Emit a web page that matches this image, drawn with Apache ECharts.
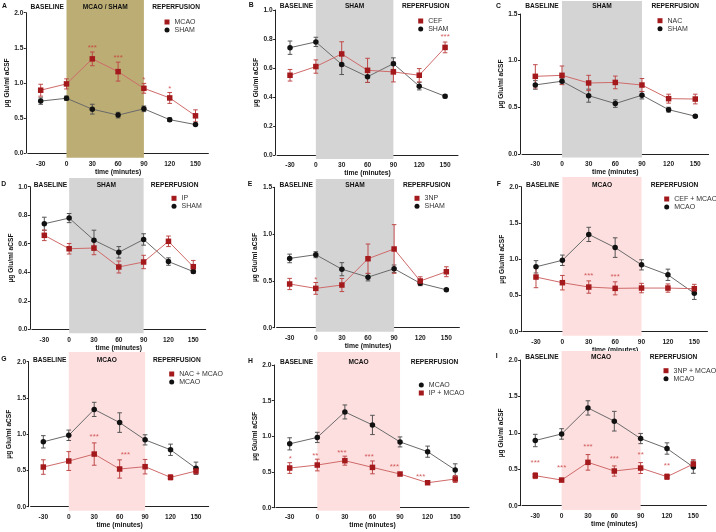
<!DOCTYPE html>
<html><head><meta charset="utf-8">
<script src="https://cdn.jsdelivr.net/npm/echarts@6/dist/echarts.min.js"></script>
<style>html,body{margin:0;padding:0;background:#fff}#c{width:716px;height:532px}</style>
</head><body><div id="c"></div>
<script>
// ---------- data ----------
const times = ['-30', '0', '30', '60', '90', '120', '150'];
const sham = [0.74, 0.78, 0.625, 0.54, 0.63, 0.475, 0.405];
const shamErr = [0.046, 0.032, 0.07, 0.04, 0.04, 0.026, 0.012];
const mcao = [0.895, 0.985, 1.342, 1.16, 0.922, 0.785, 0.53];
const mcaoErr = [0.085, 0.072, 0.098, 0.135, 0.07, 0.078, 0.085];
const cef = [0.55, 0.61, 0.697, 0.584, 0.573, 0.55, 0.742];
const cefErr = [0.04, 0.046, 0.084, 0.083, 0.069, 0.046, 0.037];
const nac = [0.832, 0.843, 0.761, 0.767, 0.739, 0.593, 0.589];
const nacErr = [0.125, 0.1, 0.082, 0.068, 0.07, 0.048, 0.052];
const ip = [0.659, 0.565, 0.57, 0.437, 0.472, 0.617, 0.439];
const ipErr = [0.037, 0.037, 0.047, 0.042, 0.047, 0.037, 0.044];
const np3 = [0.467, 0.42, 0.456, 0.737, 0.841, 0.499, 0.598];
const np3Err = [0.06, 0.063, 0.07, 0.157, 0.26, 0.045, 0.053];
const cefMcao = [0.754, 0.676, 0.616, 0.598, 0.602, 0.602, 0.593];
const cefMcaoErr = [0.147, 0.1, 0.085, 0.09, 0.065, 0.057, 0.06];
const nacMcao = [0.547, 0.63, 0.726, 0.52, 0.552, 0.405, 0.492];
const nacMcaoErr = [0.1, 0.13, 0.154, 0.126, 0.1, 0.035, 0.04];
const ipMcao = [0.556, 0.598, 0.659, 0.565, 0.472, 0.35, 0.402];
const ipMcaoErr = [0.075, 0.082, 0.063, 0.09, 0.02, 0.02, 0.048];
const np3Mcao = [0.412, 0.352, 0.595, 0.476, 0.517, 0.398, 0.572];
const np3McaoErr = [0.04, 0.022, 0.107, 0.07, 0.075, 0.037, 0.06];

// significance marks: [time, y value, text]
const starsA = [['30', 1.534, '***'], ['60', 1.379, '***'], ['90', 1.073, '*'], ['120', 0.941, '*']];
const starsB = [['150', 0.832, '***']];
const starsC = [];
const starsD = [];
const starsE = [['0', 0.534, '*']];
const starsF = [['30', 0.8, '***'], ['60', 0.79, '***']];
const starsG = [['30', 0.988, '***'], ['60', 0.749, '***']];
const starsH = [['-30', 0.715, '*'], ['0', 0.762, '**'], ['30', 0.804, '***'], ['60', 0.748, '***'], ['90', 0.598, '***'], ['120', 0.467, '***']];
const starsI = [['-30', 0.613, '***'], ['0', 0.545, '***'], ['30', 0.833, '***'], ['60', 0.673, '***'], ['90', 0.732, '**'], ['120', 0.581, '**']];

const phaseLabels = ['BASELINE', 'REPERFUSION'];
const xRange = [-45, 165];
const shadeRange = [0, 90];

// ---------- styles ----------
const FONT = '"Liberation Sans", Arial, sans-serif';
const RED = '#A3191C', RED_LINE = '#D06A6A', RED_ERR = '#BF4A4A';
const BLK = '#111111', BLK_LINE = '#6a6a6a', BLK_ERR = '#555555';
const STAR = '#C83A3A';
const OLIVE = '#BBAD74', GRAY = '#D4D4D4', PINK = '#FDDFDF';

const panels = [
  {letter: 'A', mid: 'MCAO / SHAM', shade: OLIVE, ymax: 2, yint: 0.5,
   red: mcao, redErr: mcaoErr, redName: 'MCAO', blk: sham, blkErr: shamErr, blkName: 'SHAM', redFirst: true, stars: starsA,
   lay: {left: 27.8, right: 208.4, top: 12.7, zero: 153, axisY: 157.7, bgTop: 0, lx: 4, ly: 7, nameX: 10, legX: 167, legY: 22, headY: 7}},
  {letter: 'B', mid: 'SHAM', shade: GRAY, ymax: 1, yint: 0.2,
   red: cef, redErr: cefErr, redName: 'CEF', blk: sham, blkErr: shamErr, blkName: 'SHAM', redFirst: true, stars: starsB,
   lay: {left: 277.1, right: 458, top: 10, zero: 155, axisY: 159, bgTop: 0, lx: 250.7, ly: 6, nameX: 257, legX: 420.7, legY: 21, headY: 6.3}},
  {letter: 'C', mid: 'SHAM', shade: GRAY, ymax: 1.5, yint: 0.5,
   red: nac, redErr: nacErr, redName: 'NAC', blk: sham, blkErr: shamErr, blkName: 'SHAM', redFirst: true, stars: starsC,
   lay: {left: 522, right: 708.6, top: 14, zero: 154, axisY: 157.5, bgTop: 1, lx: 498, ly: 6.7, nameX: 508.7, legX: 660, legY: 20.7, headY: 6.7}},
  {letter: 'D', mid: 'SHAM', shade: GRAY, ymax: 1, yint: 0.2,
   red: ip, redErr: ipErr, redName: 'IP', blk: sham, blkErr: shamErr, blkName: 'SHAM', redFirst: true, stars: starsD,
   lay: {left: 31.9, right: 205.7, top: 186.7, zero: 329.3, axisY: 333.3, bgTop: 178, lx: 3.3, ly: 185, nameX: 11, legX: 174, legY: 198.3, headY: 185}},
  {letter: 'E', mid: 'SHAM', shade: GRAY, ymax: 1.5, yint: 0.5,
   red: np3, redErr: np3Err, redName: '3NP', blk: sham, blkErr: shamErr, blkName: 'SHAM', redFirst: true, stars: starsE,
   lay: {left: 276.6, right: 459.4, top: 187.3, zero: 327.7, axisY: 331.7, bgTop: 179, lx: 249.7, ly: 185, nameX: 256.3, legX: 417, legY: 198.3, headY: 185}},
  {letter: 'F', mid: 'MCAO', shade: PINK, ymax: 2, yint: 0.5,
   red: cefMcao, redErr: cefMcaoErr, redName: 'CEF + MCAO', blk: mcao, blkErr: mcaoErr, blkName: 'MCAO', redFirst: true, stars: starsF,
   lay: {left: 522.8, right: 707.5, top: 186.7, zero: 331.7, axisY: 335.7, bgTop: 177, lx: 498.7, ly: 185, nameX: 504.3, legX: 666.7, legY: 199, headY: 185}},
  {letter: 'G', mid: 'MCAO', shade: PINK, ymax: 2, yint: 0.5,
   red: nacMcao, redErr: nacMcaoErr, redName: 'NAC + MCAO', blk: mcao, blkErr: mcaoErr, blkName: 'MCAO', redFirst: true, stars: starsG,
   lay: {left: 30.6, right: 208.7, top: 361.7, zero: 506.7, axisY: 510.7, bgTop: 352, lx: 3.3, ly: 360, nameX: 10, legX: 171.7, legY: 374, headY: 360, starDx: [0, 5.7]}},
  {letter: 'H', mid: 'MCAO', shade: PINK, ymax: 2, yint: 0.5,
   red: ipMcao, redErr: ipMcaoErr, redName: 'IP + MCAO', blk: mcao, blkErr: mcaoErr, blkName: 'MCAO', redFirst: false, stars: starsH,
   lay: {left: 275.9, right: 469, top: 365, zero: 507.7, axisY: 510.7, bgTop: 352, lx: 250, ly: 362, nameX: 256.3, legX: 421.3, legY: 385, headY: 362, starDx: [0.7, -2, -3, -3.3, -5.7, -7]}},
  {letter: 'I', mid: 'MCAO', shade: PINK, ymax: 2, yint: 0.5,
   red: np3Mcao, redErr: np3McaoErr, redName: '3NP + MCAO', blk: mcao, blkErr: mcaoErr, blkName: 'MCAO', redFirst: true, stars: starsI,
   lay: {left: 522.1, right: 706.5, top: 360, zero: 505.7, axisY: 510, bgTop: 351, lx: 497.7, ly: 357, nameX: 501, legX: 666, legY: 370.7, headY: 357}}
];

const option = {animation: false, backgroundColor: '#fff', title: [], grid: [], xAxis: [], yAxis: [], legend: [], series: []};

function errSeries(idx, vals, errs, color, z) {
  return {
    type: 'custom', xAxisIndex: idx, yAxisIndex: idx, z: z, silent: true,
    data: vals.map((v, k) => [k, v - errs[k], v + errs[k]]),
    encode: {x: 0, y: [1, 2]},
    renderItem: function (params, api) {
      const lo = api.coord([api.value(0), api.value(1)]);
      const hi = api.coord([api.value(0), api.value(2)]);
      const w = 2.3;
      const st = {stroke: color, lineWidth: 1};
      return {type: 'group', children: [
        {type: 'line', shape: {x1: lo[0], y1: lo[1], x2: hi[0], y2: hi[1]}, style: st},
        {type: 'line', shape: {x1: lo[0] - w, y1: lo[1], x2: lo[0] + w, y2: lo[1]}, style: st},
        {type: 'line', shape: {x1: hi[0] - w, y1: hi[1], x2: hi[0] + w, y2: hi[1]}, style: st}
      ]};
    }
  };
}

panels.forEach((p, i) => {
  const L = p.lay;
  const bg = 2 * i, mn = 2 * i + 1;
  const W = L.right - L.left;
  // background grid (shading and phase headings)
  option.grid.push({left: L.left, width: W, top: L.bgTop, height: L.axisY - L.bgTop});
  option.xAxis.push({gridIndex: bg, type: 'value', min: xRange[0], max: xRange[1], show: false});
  option.yAxis.push({gridIndex: bg, type: 'value', min: 0, max: 1, show: false});
  const headLabel = {show: true, position: 'insideTop', distance: L.headY - L.bgTop - 3.8,
    fontFamily: FONT, fontSize: 6.6, fontWeight: 'bold', color: '#111'};
  option.series.push({
    type: 'line', xAxisIndex: bg, yAxisIndex: bg, data: [], z: -5, silent: true,
    markArea: {silent: true, label: headLabel, data: [
      [{name: phaseLabels[0], xAxis: xRange[0], itemStyle: {color: 'rgba(0,0,0,0)'}}, {xAxis: shadeRange[0]}],
      [{name: p.mid, xAxis: shadeRange[0], itemStyle: {color: p.shade}}, {xAxis: shadeRange[1]}],
      [{name: phaseLabels[1], xAxis: shadeRange[1], itemStyle: {color: 'rgba(0,0,0,0)'}}, {xAxis: xRange[1]}]
    ]}
  });
  // main grid
  option.grid.push({left: L.left, width: W, top: L.top, height: L.zero - L.top});
  option.xAxis.push({
    gridIndex: mn, type: 'category', data: times, boundaryGap: true, offset: L.axisY - L.zero,
    axisLine: {lineStyle: {color: '#222', width: 1}},
    axisTick: {alignWithLabel: true, length: 2.5, lineStyle: {color: '#222'}},
    axisLabel: {fontFamily: FONT, fontSize: 6.6, fontWeight: 'bold', color: '#222', margin: 3},
    name: 'time (minutes)', nameLocation: 'middle', nameGap: 10.5,
    nameTextStyle: {fontFamily: FONT, fontSize: 6.8, fontWeight: 'bold', color: '#111'}
  });
  option.yAxis.push({
    gridIndex: mn, type: 'value', min: 0, max: p.ymax, interval: p.yint, offset: 2,
    axisLine: {show: true, lineStyle: {color: '#222', width: 1}},
    axisTick: {show: true, length: 2, lineStyle: {color: '#222'}},
    splitLine: {show: false},
    axisLabel: {fontFamily: FONT, fontSize: 6.6, fontWeight: 'bold', color: '#222', margin: 2.5,
      formatter: v => v.toFixed(1)},
    name: 'µg Glu/ml aCSF', nameLocation: 'middle', nameRotate: 90,
    nameGap: (L.left - 2) - (L.nameX + 3.6),
    nameTextStyle: {fontFamily: FONT, fontSize: 6.6, fontWeight: 'bold', color: '#111'}
  });
  option.series.push(errSeries(mn, p.blk, p.blkErr, BLK_ERR, 3));
  option.series.push(errSeries(mn, p.red, p.redErr, RED_ERR, 3));
  option.series.push({
    type: 'line', name: p.blkName, xAxisIndex: mn, yAxisIndex: mn, data: p.blk, z: 4,
    symbol: 'circle', symbolSize: 5.5, itemStyle: {color: BLK}, lineStyle: {color: BLK_LINE, width: 1}
  });
  option.series.push({
    type: 'line', name: p.redName, xAxisIndex: mn, yAxisIndex: mn, data: p.red, z: 5,
    symbol: 'rect', symbolSize: 5.5, itemStyle: {color: RED}, lineStyle: {color: RED_LINE, width: 1}
  });
  const dx = L.starDx || [];
  option.series.push({
    type: 'scatter', xAxisIndex: mn, yAxisIndex: mn, z: 6, silent: true,
    symbolSize: 1, itemStyle: {color: 'rgba(0,0,0,0)'},
    data: p.stars.map((s, k) => ({
      value: [times.indexOf(s[0]), s[1]],
      label: {show: true, formatter: s[2], position: 'inside', offset: [dx[k] || 0, 2],
        fontFamily: FONT, fontSize: 8, color: STAR}
    }))
  });
  // legend
  const redItem = {name: p.redName, icon: 'rect', itemStyle: {color: RED}};
  const blkItem = {name: p.blkName, icon: 'circle', itemStyle: {color: BLK}};
  option.legend.push({
    left: L.legX - 2.5, top: L.legY - 4, orient: 'vertical', padding: 0,
    itemWidth: 5, itemHeight: 5, itemGap: 0, selectedMode: false,
    textStyle: {fontFamily: FONT, fontSize: 7, color: '#333', lineHeight: 8},
    data: p.redFirst ? [redItem, blkItem] : [blkItem, redItem]
  });
  option.title.push({text: p.letter, left: L.lx - 2, top: L.ly - 4, padding: 0,
    textStyle: {fontFamily: FONT, fontSize: 6.8, fontWeight: 'bold', color: '#111'}});
});

const chart = echarts.init(document.getElementById('c'), null, {renderer: 'canvas'});
chart.setOption(option);
</script>
</body></html>
